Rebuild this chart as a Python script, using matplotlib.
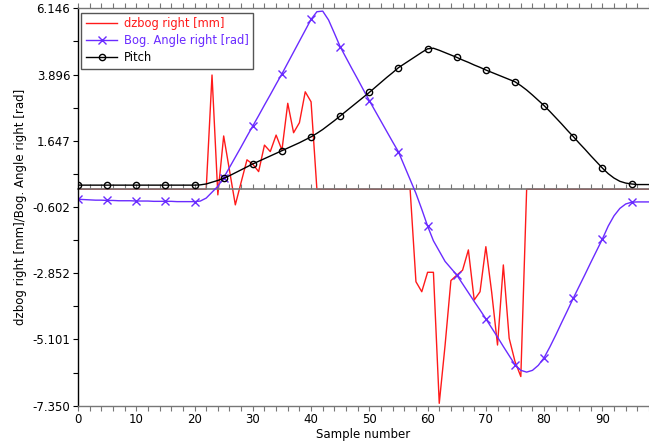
import matplotlib
matplotlib.use("Agg")
import matplotlib.pyplot as plt
from matplotlib.ticker import FixedLocator, MultipleLocator

samples = list(range(100))

dzbog = [
    0, 0, 0, 0, 0, 0, 0, 0, 0, 0,
    0, 0, 0, 0, 0, 0, 0, 0, 0, 0,
    0, 0, 0.0, 3.88, -0.19, 1.81, 0.64, -0.53, 0.24, 1.0,
    0.85, 0.6, 1.5, 1.28, 1.84, 1.33, 2.92, 1.92, 2.26, 3.31,
    2.97, 0.0, 0, 0, 0, 0, 0, 0, 0, 0,
    0, 0, 0, 0, 0, 0, 0, 0.0, -3.14, -3.48,
    -2.82, -2.82, -7.27, -5.3, -3.1, -2.92, -2.75, -2.06, -3.76, -3.48,
    -1.95, -3.5, -5.29, -2.57, -5.06, -5.85, -6.36, 0.0, 0, 0,
    0, 0, 0, 0, 0, 0, 0, 0, 0, 0,
    0, 0, 0, 0, 0, 0, 0, 0, 0, 0,
]

bog_angle = [
    -0.34, -0.35, -0.36, -0.37, -0.37, -0.38, -0.38, -0.39, -0.39, -0.39,
    -0.40, -0.40, -0.40, -0.41, -0.41, -0.41, -0.41, -0.42, -0.42, -0.42,
    -0.42, -0.40, -0.30, -0.10, 0.10, 0.39, 0.74, 1.09, 1.44, 1.80,
    2.15, 2.50, 2.86, 3.21, 3.57, 3.92, 4.29, 4.66, 5.03, 5.40,
    5.77, 6.03, 6.05, 5.75, 5.30, 4.84, 4.47, 4.10, 3.74, 3.37,
    3.01, 2.66, 2.31, 1.96, 1.61, 1.27, 0.80, 0.33, -0.14, -0.68,
    -1.25, -1.75, -2.10, -2.45, -2.68, -2.91, -3.21, -3.51, -3.81, -4.10,
    -4.40, -4.71, -5.02, -5.34, -5.65, -5.96, -6.15, -6.21, -6.15, -5.98,
    -5.72, -5.35, -4.95, -4.53, -4.12, -3.70, -3.30, -2.90, -2.49, -2.09,
    -1.69, -1.25, -0.90, -0.65, -0.50, -0.44, -0.43, -0.43, -0.43, -0.43,
]

pitch = [
    0.14, 0.14, 0.14, 0.14, 0.14, 0.14, 0.14, 0.14, 0.14, 0.14,
    0.14, 0.14, 0.14, 0.14, 0.14, 0.14, 0.14, 0.14, 0.14, 0.14,
    0.14, 0.15, 0.18, 0.24, 0.30, 0.37, 0.46, 0.56, 0.66, 0.76,
    0.86, 0.95, 1.04, 1.13, 1.22, 1.31, 1.40, 1.49, 1.58, 1.68,
    1.78, 1.90, 2.03, 2.18, 2.33, 2.49, 2.65, 2.81, 2.97, 3.13,
    3.29, 3.46, 3.63, 3.80, 3.96, 4.13, 4.26, 4.39, 4.52, 4.65,
    4.77, 4.79, 4.72, 4.64, 4.56, 4.48, 4.39, 4.31, 4.22, 4.14,
    4.05, 3.97, 3.89, 3.81, 3.73, 3.65, 3.52, 3.37, 3.20, 3.02,
    2.84, 2.64, 2.43, 2.22, 2.00, 1.79, 1.57, 1.36, 1.14, 0.93,
    0.72, 0.53, 0.38, 0.27, 0.21, 0.18, 0.16, 0.16, 0.16, 0.16,
]

y_ticks = [-7.350, -5.101, -2.852, -0.602, 1.647, 3.896, 6.146]

red = "#ff1a1a"
blue = "#6a2bff"
grey = "#777777"

plt.rcParams["font.family"] = "DejaVu Sans"
plt.rcParams["font.size"] = 8.5

fig = plt.figure(figsize=(6.49, 4.46), dpi=100)
ax = fig.add_axes((0.1202, 0.0904, 0.8798, 0.891))

ax.plot(samples, dzbog, color=red, lw=1.0, label="dzbog right [mm]",
        zorder=1.5)
ax.plot(samples, bog_angle, color=blue, lw=1.0, marker="x", markevery=5,
        ms=6, mew=1.0, label="Bog. Angle right [rad]", zorder=2.2)
ax.plot(samples, pitch, color="black", lw=1.0, marker="o", markevery=5,
        ms=4.5, mfc="none", mew=1.0, label="Pitch", zorder=2.3)

ax.set_xlim(0, 98.0)
ax.set_ylim(y_ticks[0], y_ticks[-1])

ax.xaxis.set_major_locator(MultipleLocator(10))
ax.xaxis.set_minor_locator(MultipleLocator(2))
ax.yaxis.set_major_locator(FixedLocator(y_ticks))
mids = [(a + b) / 2 for a, b in zip(y_ticks[:-1], y_ticks[1:])]
ax.yaxis.set_minor_locator(FixedLocator(mids))
ax.set_yticklabels(["%.3f" % v for v in y_ticks])

ax.tick_params(axis="x", which="both", direction="out", length=3.5,
               width=0.8, color=grey, top=True, bottom=True)
ax.tick_params(axis="y", which="both", direction="out", length=3.5,
               width=0.8, color="black", right=False)
ax.tick_params(axis="both", which="major", pad=2)

ax.spines["right"].set_visible(False)
ax.spines["left"].set_color("black")
ax.spines["top"].set_color(grey)
ax.spines["bottom"].set_color(grey)
for s in ax.spines.values():
    s.set_linewidth(1.0)

# axis line through y = 0, ticks hanging below it, drawn over the red trace
zero_pos = (0 - y_ticks[0]) / (y_ticks[-1] - y_ticks[0])
zax = ax.secondary_xaxis(zero_pos)
zax.set_zorder(2.0)
zax.xaxis.set_major_locator(MultipleLocator(10))
zax.xaxis.set_minor_locator(MultipleLocator(2))
zax.tick_params(which="both", direction="out", length=3.5, width=0.8,
                color=grey, labelbottom=False, labeltop=False)
for s in zax.spines.values():
    s.set_color(grey)
    s.set_linewidth(1.2)

ax.set_xlabel("Sample number", labelpad=1)
ax.set_ylabel("dzbog right [mm]/Bog. Angle right [rad]", labelpad=4)

leg = ax.legend(loc="upper left", bbox_to_anchor=(0.006, 0.989),
                borderaxespad=0, frameon=True, fancybox=False, framealpha=1,
                edgecolor="#555555", handlelength=2.7, handletextpad=0.55,
                borderpad=0.4, labelspacing=0.35, fontsize=8.3)
leg.set_zorder(5)
leg.get_frame().set_linewidth(1.0)
for txt, c in zip(leg.get_texts(), [red, blue, "black"]):
    txt.set_color(c)

fig.savefig("out.png", dpi=100)
